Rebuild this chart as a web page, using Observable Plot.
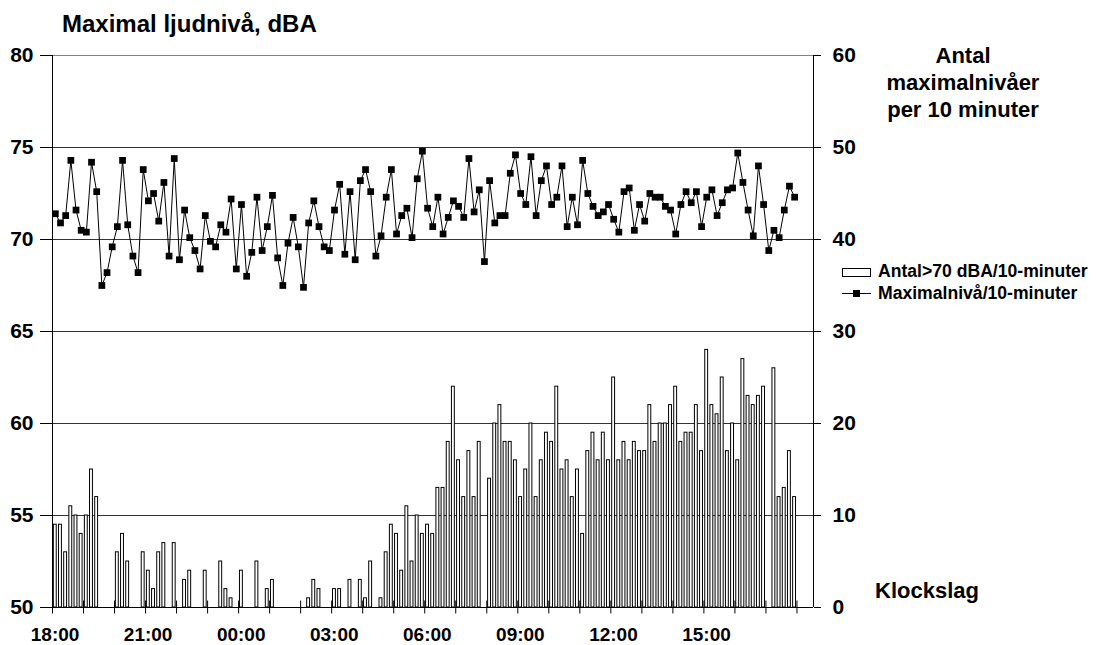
<!DOCTYPE html>
<html><head><meta charset="utf-8">
<script src="https://cdn.jsdelivr.net/npm/d3@7"></script>
<script src="https://cdn.jsdelivr.net/npm/@observablehq/plot@0.6"></script>
<style>body{margin:0;background:#fff} svg{display:block}</style>
</head><body><div id="chart"></div>
<script>
// 10-minute slots starting 18:00 (144 slots = 24 h)
const tickLabels = ["18:00","21:00","00:00","03:00","06:00","09:00","12:00","15:00"];
const leftTicks = [50,55,60,65,70,75,80];
const seriesNames = ["Antal>70 dBA/10-minuter","Maximalnivå/10-minuter"];
const titleLeft = "Maximal ljudnivå, dBA";
const titleRight = ["Antal","maximalnivåer","per 10 minuter"];
const xTitle = "Klockslag";

// Maximal ljudnivå per 10 minuter (dBA), left axis
const maxLevel = [
71.4,70.9,71.3,74.3,71.6,70.5,70.4,74.2,72.6,67.5,68.2,69.6,70.7,74.3,70.8,69.1,68.2,73.8,
72.1,72.5,71.0,73.1,69.1,74.4,68.9,71.6,70.1,69.4,68.4,71.3,69.9,69.6,70.8,70.4,72.2,68.4,
71.9,68.0,69.3,72.3,69.4,70.7,72.4,69.0,67.5,69.8,71.2,69.6,67.4,70.9,72.1,70.7,69.6,69.4,
71.6,73.0,69.2,72.6,68.9,73.2,73.8,72.6,69.1,70.2,72.3,73.8,70.3,71.3,71.7,70.1,73.3,74.8,
71.7,70.7,72.3,70.3,71.2,72.1,71.8,71.2,74.4,71.5,72.7,68.8,73.2,70.9,71.3,71.3,73.6,74.6,
72.5,71.9,74.5,71.3,73.2,74.0,71.9,72.3,74.0,70.7,72.3,70.8,74.3,72.5,71.8,71.3,71.5,71.9,
71.1,70.4,72.6,72.8,70.5,71.9,71.0,72.5,72.3,72.3,71.8,71.6,70.3,71.9,72.6,72.0,72.6,70.7,
72.3,72.7,71.3,72.0,72.7,72.8,74.7,73.1,71.6,70.2,74.0,71.9,69.4,70.5,70.1,71.6,72.9,72.3
];
// Antal maximalnivåer > 70 dBA per 10 minuter, right axis
const countOver70 = [
9,9,6,11,10,8,10,15,12,0,0,0,6,8,5,0,0,6,
4,2,6,7,0,7,0,3,4,0,0,4,0,0,5,2,1,0,
4,0,0,5,0,2,3,0,0,0,0,0,0,1,3,2,0,0,
2,2,0,3,0,3,1,5,0,1,6,9,8,4,11,5,10,8,
9,8,13,13,18,24,16,12,17,12,18,0,14,20,22,18,18,16,
12,15,20,12,16,19,18,24,15,16,12,15,8,17,19,16,19,16,
25,16,18,16,18,17,17,22,18,20,20,22,24,18,19,19,22,17,
28,22,21,25,17,20,16,27,23,22,23,24,0,26,12,13,17,12
];

const data = maxLevel.map((v, i) => ({slot: i, level: v, count: countOver70[i]}));
const toLeft = c => 50 + c / 2;          // right axis 0–60 onto left axis 50–80
const FONT = "'Liberation Sans', Arial, Helvetica, sans-serif";
const xMax = 147.2;
const labelPos = tickLabels.map((_, k) => 18 * k + 0.5);

const svg = Plot.plot({
  width: 1099, height: 645,
  marginLeft: 52, marginRight: 286, marginTop: 55, marginBottom: 38,
  style: {fontFamily: FONT, fontWeight: "bold", fontSize: "20px", color: "#000", background: "#fff"},
  x: {domain: [0, xMax], axis: null},
  y: {domain: [50, 80], axis: null},
  marks: [
    Plot.ruleY([55, 60, 65, 70, 75], {stroke: "#000", strokeOpacity: 0.8}),
    Plot.ruleY([80], {stroke: "#808080"}),
    Plot.rect(data.filter(d => d.count > 0), {
      x1: d => d.slot + 0.26, x2: d => d.slot + 0.82,
      y1: 50, y2: d => toLeft(d.count),
      fill: "#fff", stroke: "#000", strokeWidth: 1
    }),
    Plot.line(data, {x: d => d.slot + 0.55, y: "level", stroke: "#000", strokeWidth: 1}),
    Plot.dot(data, {x: d => d.slot + 0.55, y: "level", symbol: "square", fill: "#000", stroke: "none", r: 3.8}),
    Plot.ruleX([0, xMax], {stroke: "#000"}),
    Plot.ruleY([50], {stroke: "#000"}),
    Plot.ruleX(d3.range(0, 145, 6), {y1: 49.65, y2: 50.35, stroke: "#000"}),
    Plot.axisY({anchor: "left", label: null, ticks: leftTicks, tickSize: 12, tickPadding: 7, fontSize: 21, fontWeight: "bold"}),
    Plot.axisY({anchor: "right", label: null, ticks: leftTicks, tickFormat: d => (d - 50) * 2, tickSize: 7, tickPadding: 12, fontSize: 21, fontWeight: "bold"}),
    Plot.axisX({anchor: "bottom", label: null, ticks: labelPos, tickFormat: d => tickLabels[Math.round((d - 0.5) / 18)], tickSize: 0, tickPadding: 20, fontSize: 19, fontWeight: "bold"})
  ]
});
document.getElementById("chart").appendChild(svg);

const s = d3.select(svg);
const ann = s.append("g").attr("font-family", FONT).attr("font-weight", "bold").attr("fill", "#000").attr("text-anchor", "start");
ann.append("text").attr("x", 62).attr("y", 32).attr("font-size", 24).attr("text-anchor", "start").text(titleLeft);
titleRight.forEach((t, i) => {
  ann.append("text").attr("x", 963).attr("y", 63 + i * 27).attr("font-size", 22).attr("text-anchor", "middle").text(t);
});
ann.append("text").attr("x", 875).attr("y", 598).attr("font-size", 22).attr("text-anchor", "start").text(xTitle);
// legend
const lg = s.append("g").attr("font-family", FONT).attr("font-weight", "bold").attr("text-anchor", "start");
lg.append("rect").attr("x", 842.5).attr("y", 268.5).attr("width", 28).attr("height", 8).attr("fill", "#fff").attr("stroke", "#000");
lg.append("text").attr("x", 878).attr("y", 277).attr("font-size", 17.6).attr("text-anchor", "start").text(seriesNames[0]);
lg.append("line").attr("x1", 842).attr("x2", 871).attr("y1", 293.5).attr("y2", 293.5).attr("stroke", "#000");
lg.append("rect").attr("x", 853).attr("y", 290).attr("width", 7).attr("height", 7).attr("fill", "#000");
lg.append("text").attr("x", 878).attr("y", 299).attr("font-size", 17.6).attr("text-anchor", "start").text(seriesNames[1]);
</script>
</body></html>
